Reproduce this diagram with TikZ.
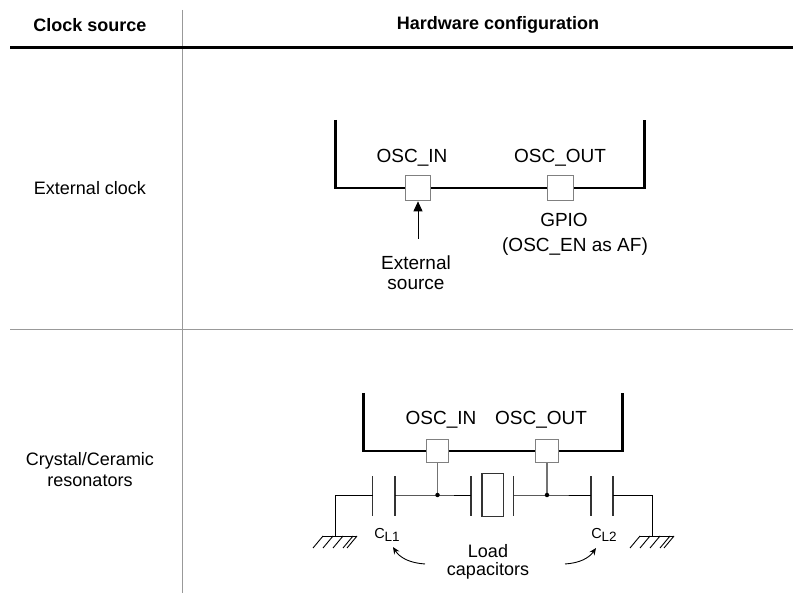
\documentclass[tikz,border=0pt]{standalone}
\usepackage{fontspec}
\setmainfont{Liberation Sans}
\usetikzlibrary{arrows.meta,calc}
\newcommand{\capsub}[1]{C\raisebox{-3.5pt}{\fontsize{13.5}{14}\selectfont #1}}
\begin{document}
\begin{tikzpicture}[x=1pt,y=-1pt,
  tabline/.style={draw=black!40,line width=1.8pt},
  headline/.style={draw=black,line width=3.8pt},
  chip/.style={draw=black,line width=2.4pt},
  pinbox/.style={draw=black!50,fill=white,line width=1.2pt,minimum size=#1,inner sep=0pt},
  wire/.style={draw=black,line width=0.9pt},
  gwire/.style={draw=black!55,line width=1.1pt},
  plate/.style={draw=black!80,line width=1.1pt},
  tabtxt/.style={font=\fontsize{18}{21}\selectfont,align=center,inner sep=0pt},
  dtxt/.style={font=\fontsize{19}{20}\selectfont,align=center,inner sep=0pt},
  captxt/.style={font=\fontsize{14.5}{15}\selectfont,inner sep=0pt},
  dot/.style={circle,fill=black,inner sep=0pt,minimum size=4.5pt},
]
\useasboundingbox (0,0) rectangle (793,593);
% table
\draw[tabline] (182.5,10) -- (182.5,593);
\draw[tabline] (10,329.5) -- (793,329.5);
\draw[headline] (10,47.5) -- (793,47.5);
\node[tabtxt,font=\fontsize{18}{21}\selectfont\bfseries] (h1) at (90,25) {Clock source};
\node[tabtxt,font=\fontsize{18}{21}\selectfont\bfseries] (h2) at (498,25) {Hardware configuration};
\node[tabtxt] (r1) at (90,188) {External clock};
\node[tabtxt] (r2) at (90,470) {Crystal/Ceramic\\resonators};

% ---- external clock ----
\draw[chip] (335.5,120) -- (335.5,188) -- (644.5,188) -- (644.5,120);
\node[pinbox=25.5pt] (in1) at (418,188) {};
\node[pinbox=25.5pt] (out1) at (560.5,188) {};
\node[dtxt] (lin1) at (412,158) {OSC\_IN};
\node[dtxt] (lout1) at (560,158) {OSC\_OUT};
\coordinate (src) at (418,239);
\draw[wire,-{Triangle[length=10pt,width=9pt]}] (src) -- (in1.south);
\node[dtxt] (srct) at (416,273) {External\\source};
\node[dtxt] (gpio) at (564,220) {GPIO};
\node[dtxt] (afn) at (575,246.5) {(OSC\_EN as AF)};

% ---- crystal ----
\draw[chip] (363.5,393) -- (363.5,451) -- (622.5,451) -- (622.5,393);
\node[dtxt] (lin2) at (441,420) {OSC\_IN};
\node[dtxt] (lout2) at (541,420) {OSC\_OUT};
\coordinate (j1) at (437.5,495);
\coordinate (j2) at (547,495);
\draw[gwire] (437.5,462) -- (j1);
\draw[gwire] (547,462) -- (j2);
\node[pinbox=22.5pt] (in2) at (437.5,451) {};
\node[pinbox=22.5pt] (out2) at (547,451) {};
% capacitor 1
\coordinate (c1a) at (372.5,495);
\coordinate (c1b) at (395,495);
\draw[plate] (372.5,476.5) -- (372.5,516.5);
\draw[plate] (395,476.5) -- (395,516.5);
% crystal
\coordinate (xa) at (471,495);
\coordinate (xb) at (513.5,495);
\draw[plate] (471,476.5) -- (471,516.5);
\draw[plate] (513.5,476.5) -- (513.5,516.5);
\draw[draw=black!80,line width=1.1pt] (482,473.5) rectangle (503.5,516.5);
% capacitor 2
\coordinate (c2a) at (591,495);
\coordinate (c2b) at (613,495);
\draw[plate] (591,476.5) -- (591,516.5);
\draw[plate] (613,476.5) -- (613,516.5);
% grounds
\coordinate (g1) at (335,536);
\coordinate (g2) at (652,536);
\draw[wire] (c1a) -| (g1);
\draw[wire] (c1b) -- (j1) -- (xa);
\draw[wire] (xb) -- (j2) -- (c2a);
\draw[wire] (c2b) -| (g2);
\node[dot] at (j1) {};
\node[dot] at (j2) {};
\foreach \g in {g1,g2}{
  \draw[wire] ($(\g)+(-13,0)$) -- ($(\g)+(22,0)$);
}
\foreach \k in {0,1,2,3}{
  \draw[wire] ($(g1)+(-12+10*\k,0)$) -- ++(-10,12);
  \draw[wire] ($(g2)+(-12+10*\k,0)$) -- ++(-10,12);
}
\draw[wire] ($(g1)+(22,0)$) -- ++(-10,12);
\draw[wire] ($(g2)+(22,0)$) -- ++(-10,12);
\node[captxt] (cl1) at (387,535) {\capsub{L1}};
\node[captxt] (cl2) at (604,535) {\capsub{L2}};
\node[dtxt,font=\fontsize{18}{18}\selectfont] (load) at (488,562) {Load\\capacitors};
\coordinate (a1s) at (425,564);
\coordinate (a1e) at (393,547);
\coordinate (a2s) at (565,564);
\coordinate (a2e) at (596,548);
\draw[wire,-{Stealth[length=7pt,width=6pt]}] (a1s) .. controls (410,563) and (400,558) .. (a1e);
\draw[wire,-{Stealth[length=7pt,width=6pt]}] (a2s) .. controls (580,563) and (589,558) .. (a2e);
\end{tikzpicture}
\end{document}
